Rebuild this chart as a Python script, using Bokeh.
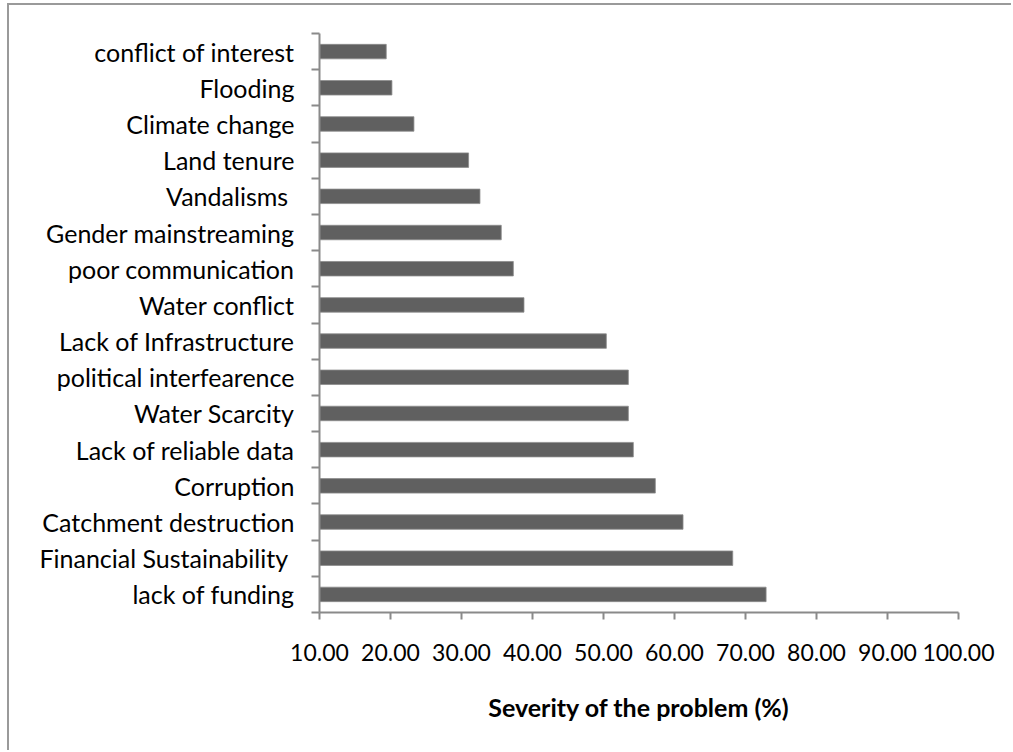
from bokeh.plotting import figure
from bokeh.models import FixedTicker, Range1d, ColumnDataSource
from bokeh.embed import file_html
from bokeh.resources import INLINE

# Problems, listed bottom to top as they appear on the vertical axis
problems = [
    "lack of funding",
    "Financial Sustainability ",
    "Catchment destruction",
    "Corruption",
    "Lack of reliable data",
    "Water Scarcity",
    "political interfearence",
    "Lack of Infrastructure",
    "Water conflict",
    "poor communication",
    "Gender mainstreaming",
    "Vandalisms ",
    "Land tenure",
    "Climate change",
    "Flooding",
    "conflict of interest",
]
severity = [72.9, 68.2, 61.2, 57.3, 54.2, 53.5, 53.5, 50.4,
            38.8, 37.3, 35.6, 32.6, 31.0, 23.3, 20.2, 19.4]
x_ticks = [10, 20, 30, 40, 50, 60, 70, 80, 90, 100]

FONT = "Lato"
AXIS_GREY = "#8a8a8a"

centers = [i + 0.5 for i in range(len(problems))]
bounds = list(range(len(problems) + 1))

src = ColumnDataSource(dict(y=centers, right=severity))

p = figure(
    width=1004, height=747,
    x_range=Range1d(10, 100), y_range=Range1d(0, len(problems)),
    output_backend="svg", toolbar_location=None,
    min_border_left=310, min_border_right=55,
    min_border_top=28, min_border_bottom=140,
)
p.margin = (3, 0, 0, 7)
p.styles = {"border-left": "2px solid #9a9a9a", "border-top": "2px solid #9a9a9a"}
p.outline_line_color = None
p.xgrid.visible = False
p.ygrid.visible = False
p.background_fill_color = "white"
p.border_fill_color = "white"

p.hbar(y="y", right="right", left=10, height=0.4, source=src,
       fill_color="#606060", line_color="#8c8c8c", line_width=0.8)

# horizontal value axis
xa = p.xaxis[0]
xa.ticker = FixedTicker(ticks=x_ticks, minor_ticks=[])
xa.major_label_overrides = {t: f"{t:.2f}" for t in x_ticks}
xa.axis_line_color = AXIS_GREY
xa.axis_line_width = 2
xa.major_tick_line_color = AXIS_GREY
xa.major_tick_line_width = 2
xa.major_tick_in = 0
xa.major_tick_out = 7
xa.minor_tick_line_color = None
xa.major_label_text_font = FONT
xa.major_label_text_font_size = "23px"
xa.major_label_text_color = "black"
xa.major_label_standoff = 24
xa.axis_label = "Severity of the problem (%)"
xa.axis_label_text_font = FONT
xa.axis_label_text_font_style = "bold"
xa.axis_label_text_font_size = "25px"
xa.axis_label_text_color = "black"
xa.axis_label_standoff = 28

# category axis: names at band centres, ticks on band boundaries
ya = p.yaxis[0]
ya.ticker = FixedTicker(ticks=centers, minor_ticks=bounds)
ya.major_label_overrides = {c: name for c, name in zip(centers, problems)}
ya.axis_line_color = AXIS_GREY
ya.axis_line_width = 2
ya.major_tick_line_color = None
ya.major_tick_in = 0
ya.major_tick_out = 0
ya.minor_tick_line_color = AXIS_GREY
ya.minor_tick_line_width = 2
ya.minor_tick_in = 0
ya.minor_tick_out = 8
ya.major_label_text_font = FONT
ya.major_label_text_font_size = "25px"
ya.major_label_text_color = "black"
ya.major_label_standoff = 17

open("out.html", "w").write(file_html(p, INLINE))
